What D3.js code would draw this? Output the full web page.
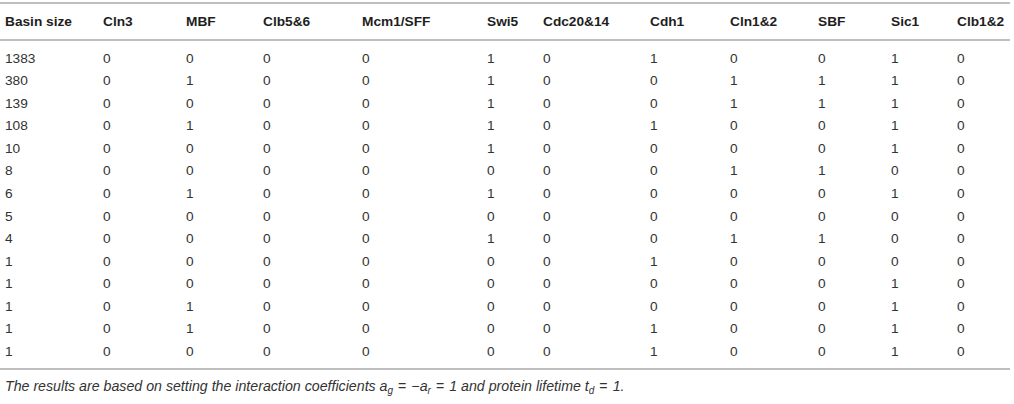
<!DOCTYPE html>
<html><head><meta charset="utf-8">
<script src="https://cdn.jsdelivr.net/npm/d3@7"></script>
<style>
html,body{margin:0;padding:0;background:#fff;}
svg{display:block;}
</style></head>
<body>
<script>
// ---- data ----
const headers = ["Basin size","Cln3","MBF","Clb5&6","Mcm1/SFF","Swi5","Cdc20&14","Cdh1","Cln1&2","SBF","Sic1","Clb1&2"];
const basinSize = [1383,380,139,108,10,8,6,5,4,1,1,1,1,1];
const Cln3    = [0,0,0,0,0,0,0,0,0,0,0,0,0,0];
const MBF     = [0,1,0,1,0,0,1,0,0,0,0,1,1,0];
const Clb56   = [0,0,0,0,0,0,0,0,0,0,0,0,0,0];
const Mcm1SFF = [0,0,0,0,0,0,0,0,0,0,0,0,0,0];
const Swi5    = [1,1,1,1,1,0,1,0,1,0,0,0,0,0];
const Cdc2014 = [0,0,0,0,0,0,0,0,0,0,0,0,0,0];
const Cdh1    = [1,0,0,1,0,0,0,0,0,1,0,0,1,1];
const Cln12   = [0,1,1,0,0,1,0,0,1,0,0,0,0,0];
const SBF     = [0,1,1,0,0,1,0,0,1,0,0,0,0,0];
const Sic1    = [1,1,1,1,1,0,1,0,0,0,1,1,1,1];
const Clb12   = [0,0,0,0,0,0,0,0,0,0,0,0,0,0];

const columns = [basinSize,Cln3,MBF,Clb56,Mcm1SFF,Swi5,Cdc2014,Cdh1,Cln12,SBF,Sic1,Clb12];

// ---- layout ----
const W = 1014, H = 404;
const colLeft = [5,103,186,263,362,487,543,650,730,818,891,957];
const x = d3.scaleOrdinal().domain(headers).range(colLeft);
const y = d3.scalePoint().domain(d3.range(basinSize.length)).range([58,351]);

const svg = d3.select("body").append("svg").attr("width",W).attr("height",H);
const font = "'Liberation Sans', Arial, Helvetica, sans-serif";

const lineColor = "#aaaaaa";
[3,40,369].forEach(ly=>{
  svg.append("line").attr("x1",0).attr("x2",1010).attr("y1",ly).attr("y2",ly)
    .attr("stroke",lineColor).attr("stroke-width",1.5);
});

svg.append("g").selectAll("text").data(headers).join("text")
  .attr("x",d=>x(d)).attr("y",21).attr("dy","0.35em")
  .attr("font-family",font).attr("font-size",13.7).attr("font-weight","bold")
  .attr("fill","#1e1e1e").text(d=>d);

const body = svg.append("g");
columns.forEach((col,ci)=>{
  body.append("g").selectAll("text").data(col).join("text")
    .attr("x",x(headers[ci])).attr("y",(d,i)=>y(i)).attr("dy","0.35em")
    .attr("font-family",font).attr("font-size",13.7).attr("fill","#333")
    .text(d=>d);
});

// footnote
const fn = svg.append("text").attr("x",5).attr("y",386).attr("dy","0.35em")
  .attr("font-family",font).attr("font-size",14.2).attr("font-style","italic").attr("fill","#333");
fn.append("tspan").text("The results are based on setting the interaction coefficients a");
fn.append("tspan").attr("font-size",10).attr("dy",3).text("g");
fn.append("tspan").attr("dy",-3).attr("dx",5).attr("font-style","normal").text("=");
fn.append("tspan").attr("dx",5).text("\u2212a");
fn.append("tspan").attr("font-size",10).attr("dy",3).text("r");
fn.append("tspan").attr("dy",-3).attr("dx",5).attr("font-style","normal").text("=");
fn.append("tspan").attr("dx",5).text("1 and protein lifetime t");
fn.append("tspan").attr("font-size",10).attr("dy",3).text("d");
fn.append("tspan").attr("dy",-3).attr("dx",5).attr("font-style","normal").text("=");
fn.append("tspan").attr("dx",5).text("1.");
</script>
</body></html>
